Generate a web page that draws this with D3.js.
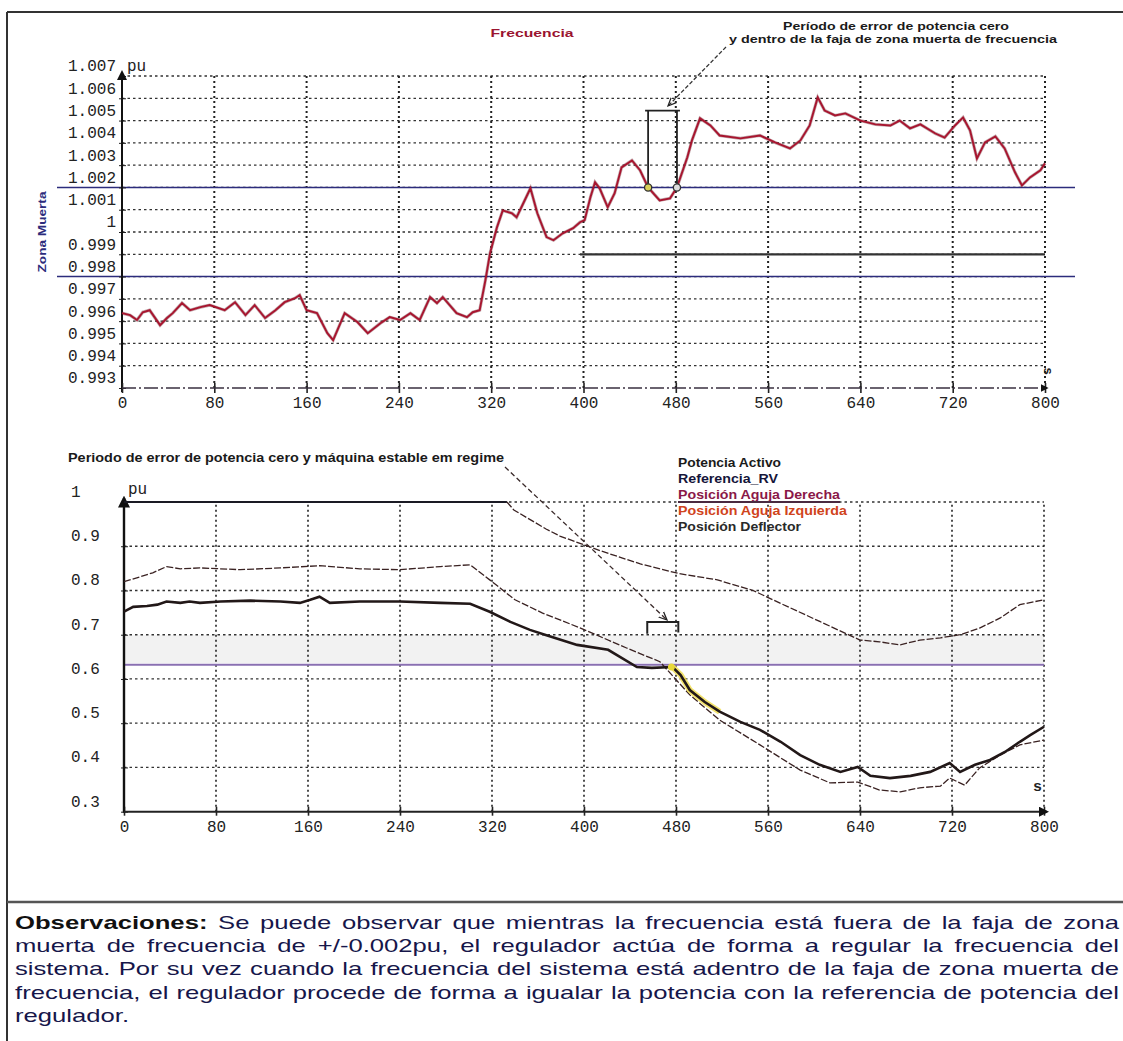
<!DOCTYPE html>
<html>
<head>
<meta charset="utf-8">
<script src="https://cdn.jsdelivr.net/npm/d3@7"></script>
<style>
  body { margin: 0; background: #fff; }
  svg { display: block; }
</style>
</head>
<body>
<div id="canvas"></div>
<script>
"use strict"

/* ---------- data ---------- */
const timeTicks = [0, 80, 160, 240, 320, 400, 480, 560, 640, 720, 800];
const freqTicks = [0.993, 0.994, 0.995, 0.996, 0.997, 0.998, 0.999, 1, 1.001, 1.002, 1.003, 1.004, 1.005, 1.006, 1.007];
const freqTickLabels = ["0.993", "0.994", "0.995", "0.996", "0.997", "0.998", "0.999", "1", "1.001", "1.002", "1.003", "1.004", "1.005", "1.006", "1.007"];
const powerTicks = [0.3, 0.4, 0.5, 0.6, 0.7, 0.8, 0.9, 1];
const powerTickLabels = ["0.3", "0.4", "0.5", "0.6", "0.7", "0.8", "0.9", "1"];
const deadZone = [0.998, 1.002];
const zeroErrorWindow = [456, 481];   // s, both charts
const powerReference = 0.632;
const grayBand = [0.636, 0.699];

// Frecuencia [s, pu]
const frecuencia = [
  [0,0.99636],[7,0.99627],[13,0.99605],[18,0.99640],[24,0.99649],[33,0.99582],[39,0.99614],[44,0.99636],
  [52,0.99681],[59,0.99649],[68,0.99663],[76,0.99672],[89,0.99649],[98,0.99685],[107,0.99627],[115,0.99672],
  [124,0.99614],[133,0.99649],[141,0.99685],[150,0.99703],[154,0.99717],[160,0.99649],[169,0.99636],[178,0.99546],
  [183,0.99515],[193,0.99636],[204,0.99596],[213,0.99546],[224,0.99591],[232,0.99618],[241,0.99605],[250,0.99636],
  [258,0.99605],[267,0.99708],[273,0.99681],[278,0.99708],[290,0.99636],[299,0.99618],[304,0.99640],[310,0.99649],
  [315,0.99784],[319,0.99905],[325,1.00021],[330,1.00097],[338,1.00084],[342,1.00066],[347,1.00120],[354,1.00196],
  [360,1.00084],[368,0.99977],[374,0.99963],[382,0.99994],[391,1.00017],[397,1.00044],[401,1.00053],[406,1.00156],
  [410,1.00223],[414,1.00196],[421,1.00111],[427,1.00174],[433,1.00290],[442,1.00321],[449,1.00277],[456,1.00200],
  [466,1.00142],[475,1.00151],[481,1.00200],[490,1.00335],[494,1.00411],[501,1.00510],[510,1.00478],[518,1.00433],
  [536,1.00420],[553,1.00433],[566,1.00402],[579,1.00375],[588,1.00411],[596,1.00478],[603,1.00604],[609,1.00545],
  [618,1.00523],[627,1.00532],[640,1.00500],[653,1.00483],[666,1.00478],[674,1.00500],[683,1.00465],[692,1.00483],
  [705,1.00442],[713,1.00424],[722,1.00478],[729,1.00514],[735,1.00456],[741,1.00330],[748,1.00402],[757,1.00429],
  [765,1.00375],[774,1.00268],[780,1.00209],[787,1.00245],[796,1.00277],[800,1.00308]
];
const referenciaFreq = [[397,0.999],[800,0.999]];

// lower chart [s, pu]
const potenciaActivo = [
  [0,0.752],[8,0.763],[20,0.765],[29,0.768],[37,0.775],[49,0.772],[57,0.775],[66,0.772],[84,0.775],[110,0.777],
  [136,0.775],[153,0.772],[162,0.779],[170,0.786],[179,0.772],[205,0.775],[240,0.775],[275,0.772],[301,0.770],
  [318,0.752],[336,0.729],[353,0.711],[366,0.700],[394,0.677],[421,0.666],[446,0.627],[459,0.625],[477,0.627],
  [484,0.609],[492,0.575],[505,0.548],[518,0.526],[536,0.503],[553,0.485],[571,0.458],[588,0.428],[605,0.406],
  [623,0.390],[638,0.401],[649,0.381],[666,0.376],[684,0.381],[701,0.390],[718,0.410],[727,0.390],[740,0.406],
  [753,0.417],[766,0.435],[779,0.458],[788,0.473],[800,0.492]
];
const posicionAguja = [
  [0,0.820],[14,0.831],[25,0.840],[37,0.854],[49,0.849],[66,0.851],[101,0.847],[136,0.851],[170,0.856],[205,0.849],
  [240,0.847],[275,0.854],[301,0.858],[318,0.824],[340,0.779],[364,0.749],[397,0.715],[437,0.670],[466,0.639],
  [492,0.564],[518,0.507],[553,0.451],[588,0.394],[614,0.365],[638,0.367],[657,0.349],[675,0.345],[692,0.354],
  [710,0.358],[718,0.376],[731,0.360],[744,0.399],[762,0.428],[779,0.451],[800,0.462]
];
const posicionDeflector = [
  [333,1.0],[339,0.982],[367,0.939],[379,0.923],[414,0.890],[449,0.860],[483,0.838],[516,0.824],[547,0.800],
  [570,0.772],[605,0.730],[640,0.688],[657,0.684],[675,0.677],[692,0.688],[710,0.693],[727,0.700],[744,0.715],
  [762,0.738],[779,0.768],[800,0.779]
];
const referenciaRV = [[0,1],[333,1]];
const highlightWindow = [474, 522];

const legendNames = ["Potencia Activo", "Referencia_RV", "Posición Aguja Derecha", "Posición Aguja Izquierda", "Posición Deflector"];
const legendColors = ["#1b1b1b", "#15153a", "#8a1848", "#d0441c", "#2a2a2a"];

const obsLines = [
  "Observaciones: Se puede observar que mientras la frecuencia está fuera de la faja de zona",
  "muerta de frecuencia de +/-0.002pu, el regulador actúa de forma a regular la frecuencia del",
  "sistema. Por su vez cuando la frecuencia del sistema está adentro de la faja de zona muerta de",
  "frecuencia, el regulador procede de forma a igualar la potencia con la referencia de potencia del",
  "regulador."
];

/* ---------- canvas ---------- */
let drawing = d3.select("#canvas")
  .append("svg")
  .attr("width", 1123)
  .attr("height", 1041)
  .style("background", "#fff");

let defs = drawing.append("defs");
defs.append("marker").attr("id", "arrow")
  .attr("viewBox", "0 0 10 10").attr("refX", 9).attr("refY", 5)
  .attr("markerWidth", 7).attr("markerHeight", 7).attr("orient", "auto-start-reverse")
  .append("path").attr("d", "M0,1 L9,5 L0,9").attr("fill", "none").attr("stroke", "#222").attr("stroke-width", 1.4);
defs.append("marker").attr("id", "axisArrow")
  .attr("viewBox", "0 0 10 10").attr("refX", 8).attr("refY", 5)
  .attr("markerWidth", 5).attr("markerHeight", 5).attr("orient", "auto")
  .append("path").attr("d", "M0,0 L10,5 L0,10 z").attr("fill", "#111");

const monoFont = "'Liberation Mono', 'DejaVu Sans Mono', monospace";
const sansFont = "'Liberation Sans', Arial, sans-serif";

// the scan is stretched sideways: force the width of a label
function stretch(sel, w) {
  return sel.attr("textLength", w).attr("lengthAdjust", "spacingAndGlyphs");
}

/* ---------- frame ---------- */
drawing.append("line").attr("x1", 7).attr("y1", 12).attr("x2", 1123).attr("y2", 12)
  .attr("stroke", "#333").attr("stroke-width", 2);
drawing.append("line").attr("x1", 7).attr("y1", 12).attr("x2", 7).attr("y2", 1041)
  .attr("stroke", "#333").attr("stroke-width", 2);
drawing.append("line").attr("x1", 7).attr("y1", 902).attr("x2", 1123).attr("y2", 902)
  .attr("stroke", "#555").attr("stroke-width", 2.5);

/* ====================== TOP: Frecuencia ====================== */
let xTop = d3.scaleLinear().domain([0, 800]).range([122, 1045]);
let yTop = d3.scaleLinear().domain([0.993, 1.007]).range([388, 76]);

let topChart = drawing.append("g");

// dotted grid
topChart.append("g").selectAll("line").data(freqTicks.slice(1)).join("line")
  .attr("x1", xTop(0)).attr("x2", xTop(800))
  .attr("y1", d => yTop(d)).attr("y2", d => yTop(d))
  .attr("stroke", "#333").attr("stroke-width", 1.3).attr("stroke-dasharray", "2.5,3");
topChart.append("g").selectAll("line").data(timeTicks.slice(1)).join("line")
  .attr("x1", d => xTop(d)).attr("x2", d => xTop(d))
  .attr("y1", yTop(0.993)).attr("y2", yTop(1.007))
  .attr("stroke", "#222").attr("stroke-width", 2).attr("stroke-dasharray", "2,3");

// dead zone lines
topChart.append("g").selectAll("line").data(deadZone).join("line")
  .attr("x1", 57).attr("x2", 1075)
  .attr("y1", d => yTop(d)).attr("y2", d => yTop(d))
  .attr("stroke", "#2c2c7c").attr("stroke-width", 1.6);

// reference at 0.999
topChart.append("path").datum(referenciaFreq)
  .attr("d", d3.line().x(d => xTop(d[0])).y(d => yTop(d[1])))
  .attr("stroke", "#333").attr("stroke-width", 2.2).attr("fill", "none");

// axes
let yAxisTop = topChart.append("g").attr("transform", `translate(${xTop(0)},0)`)
  .call(d3.axisLeft(yTop).tickValues(freqTicks).tickFormat((d, i) => freqTickLabels[i]).tickSize(4).tickPadding(2));
yAxisTop.select(".domain").remove();
yAxisTop.selectAll("text").attr("dy", "-0.32em")
  .style("font-family", monoFont).style("font-size", "16px").attr("fill", "#222");
yAxisTop.selectAll(".tick line").attr("x2", 4).attr("x1", -3).attr("stroke", "#222");

topChart.append("line").attr("x1", xTop(0)).attr("x2", xTop(0)).attr("y1", yTop(0.993) + 4).attr("y2", yTop(1.007) - 4)
  .attr("stroke", "#111").attr("stroke-width", 2).attr("marker-end", "url(#axisArrow)");

let xAxisTop = topChart.append("g").attr("transform", `translate(0,${yTop(0.993)})`)
  .call(d3.axisBottom(xTop).tickValues(timeTicks).tickSize(5));
xAxisTop.select(".domain").remove();
xAxisTop.selectAll(".tick line").attr("y1", -5).attr("y2", 5).attr("stroke", "#222").attr("stroke-width", 1.6);
xAxisTop.selectAll("text").attr("y", 20).attr("dy", null)
  .style("font-family", monoFont).style("font-size", "16px").attr("fill", "#222");
topChart.append("line").attr("x1", xTop(0)).attr("x2", xTop(800) + 2).attr("y1", yTop(0.993)).attr("y2", yTop(0.993))
  .attr("stroke", "#3a3040").attr("stroke-width", 1.6).attr("stroke-dasharray", "14,3,2,3")
  .attr("marker-end", "url(#axisArrow)");

topChart.append("text").attr("x", 127).attr("y", 71).text("pu")
  .style("font-family", monoFont).style("font-size", "16px").attr("fill", "#222");
topChart.append("text").attr("transform", `translate(1044,371) rotate(90)`).attr("text-anchor", "middle").text("s")
  .style("font-family", sansFont).style("font-weight", "bold").style("font-size", "13px").attr("fill", "#222");

// Zona Muerta label
stretch(topChart.append("text").attr("transform", `translate(46,${yTop(1)}) rotate(-90)`).attr("text-anchor", "middle")
  .text("Zona Muerta").style("font-family", sansFont).style("font-weight", "bold").style("font-size", "11px")
  .attr("fill", "#2c2c7c"), 81);

// frequency trace
topChart.append("path").datum(frecuencia)
  .attr("d", d3.line().x(d => xTop(d[0])).y(d => yTop(d[1])))
  .attr("stroke", "#5a0c18").attr("stroke-width", 3.2).attr("fill", "none").attr("opacity", 0.35);
topChart.append("path").datum(frecuencia)
  .attr("d", d3.line().x(d => xTop(d[0])).y(d => yTop(d[1])))
  .attr("stroke", "#a8152f").attr("stroke-width", 1.9).attr("fill", "none");

// zero error window bracket
let bTop = yTop(1.00545);
topChart.append("path")
  .attr("d", `M${xTop(zeroErrorWindow[0])},${yTop(deadZone[1])} V${bTop} M${xTop(zeroErrorWindow[1])},${yTop(deadZone[1])} V${bTop} M${xTop(zeroErrorWindow[0]) - 3},${bTop} H${xTop(zeroErrorWindow[1]) + 3}`)
  .attr("stroke", "#222").attr("stroke-width", 1.8).attr("fill", "none");
topChart.append("circle").attr("cx", xTop(zeroErrorWindow[0])).attr("cy", yTop(deadZone[1])).attr("r", 3.6)
  .attr("fill", "#d8cf58").attr("stroke", "#333").attr("stroke-width", 1.3);
topChart.append("circle").attr("cx", xTop(zeroErrorWindow[1])).attr("cy", yTop(deadZone[1])).attr("r", 3.6)
  .attr("fill", "#ddd").attr("stroke", "#333").attr("stroke-width", 1.3);

// titles
stretch(topChart.append("text").attr("x", 532).attr("y", 37).attr("text-anchor", "middle").text("Frecuencia")
  .style("font-family", sansFont).style("font-weight", "bold").style("font-size", "11px").attr("fill", "#9a1430"), 83);
stretch(topChart.append("text").attr("x", 896).attr("y", 30).attr("text-anchor", "middle").text("Período de error de potencia cero")
  .style("font-family", sansFont).style("font-weight", "bold").style("font-size", "11px").attr("fill", "#1a1a1a"), 226);
stretch(topChart.append("text").attr("x", 893).attr("y", 43).attr("text-anchor", "middle").text("y dentro de la faja de zona muerta de frecuencia")
  .style("font-family", sansFont).style("font-weight", "bold").style("font-size", "11px").attr("fill", "#1a1a1a"), 328);
topChart.append("line").attr("x1", 726).attr("y1", 47).attr("x2", 668).attr("y2", 106)
  .attr("stroke", "#333").attr("stroke-width", 1.3).attr("stroke-dasharray", "4,2").attr("marker-end", "url(#arrow)");

/* ====================== BOTTOM: potencia / posiciones ====================== */
let xBot = d3.scaleLinear().domain([0, 800]).range([124, 1044]);
let yBot = d3.scaleLinear().domain([0.3, 1]).range([811.7, 502]);
let botChart = drawing.append("g");

botChart.append("rect").attr("x", xBot(0)).attr("width", xBot(800) - xBot(0))
  .attr("y", yBot(grayBand[1])).attr("height", yBot(grayBand[0]) - yBot(grayBand[1]))
  .attr("fill", "#f2f2f2");

botChart.append("g").selectAll("line").data(powerTicks.slice(1)).join("line")
  .attr("x1", xBot(0)).attr("x2", xBot(800))
  .attr("y1", d => yBot(d)).attr("y2", d => yBot(d))
  .attr("stroke", "#333").attr("stroke-width", 1.3).attr("stroke-dasharray", "2.5,3");
botChart.append("g").selectAll("line").data(timeTicks.slice(1)).join("line")
  .attr("x1", d => xBot(d)).attr("x2", d => xBot(d))
  .attr("y1", yBot(0.3)).attr("y2", yBot(1))
  .attr("stroke", "#222").attr("stroke-width", 1.6).attr("stroke-dasharray", "2,3");

botChart.append("line").attr("x1", xBot(0)).attr("x2", xBot(800))
  .attr("y1", yBot(powerReference)).attr("y2", yBot(powerReference))
  .attr("stroke", "#8a70b2").attr("stroke-width", 2);

let yAxisBot = botChart.append("g").attr("transform", `translate(${xBot(0)},0)`)
  .call(d3.axisLeft(yBot).tickValues(powerTicks).tickFormat((d, i) => powerTickLabels[i]).tickSize(4));
yAxisBot.select(".domain").remove();
yAxisBot.selectAll(".tick line").attr("x1", -3).attr("x2", 4).attr("stroke", "#222");
yAxisBot.selectAll("text").attr("x", 71 - xBot(0)).attr("dy", "-0.35em").attr("text-anchor", "start")
  .style("font-family", monoFont).style("font-size", "16px").attr("fill", "#222");

let xAxisBot = botChart.append("g").attr("transform", `translate(0,${yBot(0.3)})`)
  .call(d3.axisBottom(xBot).tickValues(timeTicks).tickSize(5));
xAxisBot.select(".domain").remove();
xAxisBot.selectAll(".tick line").attr("y1", -5).attr("y2", 4).attr("stroke", "#222").attr("stroke-width", 1.6);
xAxisBot.selectAll("text").attr("y", 20).attr("dy", null)
  .style("font-family", monoFont).style("font-size", "16px").attr("fill", "#222");

botChart.append("line").attr("x1", xBot(0)).attr("x2", xBot(0)).attr("y1", yBot(0.3) + 1).attr("y2", yBot(1) - 4)
  .attr("stroke", "#111").attr("stroke-width", 2.4).attr("marker-end", "url(#axisArrow)");
botChart.append("line").attr("x1", xBot(0)).attr("x2", xBot(800) + 3).attr("y1", yBot(0.3)).attr("y2", yBot(0.3))
  .attr("stroke", "#222").attr("stroke-width", 2).attr("marker-end", "url(#axisArrow)");

botChart.append("text").attr("x", 128).attr("y", 494).text("pu")
  .style("font-family", monoFont).style("font-size", "16px").attr("fill", "#222");
botChart.append("text").attr("x", 1033).attr("y", 791).text("s")
  .style("font-family", monoFont).style("font-size", "15px").style("font-weight", "bold").attr("fill", "#222");

let lineBot = d3.line().x(d => xBot(d[0])).y(d => yBot(d[1]));

botChart.append("path").datum(referenciaRV).attr("d", lineBot)
  .attr("stroke", "#1a1a24").attr("stroke-width", 2).attr("fill", "none");
botChart.append("path").datum(posicionDeflector).attr("d", lineBot)
  .attr("stroke", "#3a2222").attr("stroke-width", 1.3).attr("stroke-dasharray", "7,2").attr("fill", "none");
botChart.append("path").datum(posicionAguja).attr("d", lineBot)
  .attr("stroke", "#3a2222").attr("stroke-width", 1.3).attr("stroke-dasharray", "7,2").attr("fill", "none");
botChart.append("path").datum(potenciaActivo.filter(d => d[0] >= highlightWindow[0] && d[0] <= highlightWindow[1]))
  .attr("d", lineBot).attr("stroke", "#f0dc4a").attr("stroke-width", 6).attr("fill", "none").attr("opacity", 0.8);
botChart.append("path").datum(potenciaActivo).attr("d", lineBot)
  .attr("stroke", "#221818").attr("stroke-width", 2.6).attr("fill", "none");
botChart.append("circle").attr("cx", xBot(highlightWindow[0] + 2)).attr("cy", yBot(0.627)).attr("r", 3.5).attr("fill", "#e8d83a");

// bracket + annotation
let bx0 = xBot(zeroErrorWindow[0] - 1), bx1 = xBot(zeroErrorWindow[1] + 1);
botChart.append("path")
  .attr("d", `M${bx0},${yBot(0.702)} V${yBot(0.729)} H${bx1} V${yBot(0.705)}`)
  .attr("stroke", "#222").attr("stroke-width", 2).attr("fill", "none");
stretch(botChart.append("text").attr("x", 68).attr("y", 462).text("Periodo de error de potencia cero y máquina estable em regime")
  .style("font-family", sansFont).style("font-weight", "bold").style("font-size", "12px").attr("fill", "#1a1a1a"), 436);
botChart.append("line").attr("x1", 505).attr("y1", 467).attr("x2", 667).attr("y2", 620)
  .attr("stroke", "#3a2a2a").attr("stroke-width", 1.3).attr("stroke-dasharray", "5,3").attr("marker-end", "url(#arrow)");

// legend
const legendWidths = [103, 100, 162, 169, 123];
botChart.append("g").selectAll("text").data(legendNames).join("text")
  .attr("x", 678).attr("y", (d, i) => 467 + i * 16).text(d => d)
  .attr("textLength", (d, i) => legendWidths[i]).attr("lengthAdjust", "spacingAndGlyphs")
  .style("font-family", sansFont).style("font-weight", "bold").style("font-size", "13px")
  .attr("fill", (d, i) => legendColors[i]);
botChart.append("line").attr("x1", 678).attr("x2", 840).attr("y1", yBot(1)).attr("y2", yBot(1))
  .attr("stroke", "#4a2a40").attr("stroke-width", 2);

/* ====================== Observaciones (justified) ====================== */
const obsX0 = 15, obsX1 = 1119, obsGap = 8;
let obsRows = obsLines.map((line, i) => {
  const words = line.split(" ");
  const nodes = words.map((w, j) => drawing.append("text").attr("y", 929 + i * 23.2).text(w)
    .style("font-family", sansFont)
    .style("font-size", "19px")
    .style("font-weight", (i === 0 && j === 0) ? "bold" : "normal")
    .attr("fill", (i === 0 && j === 0) ? "#111" : "#16164a"));
  const widths = nodes.map(n => n.node().getComputedTextLength());
  return { nodes, widths };
});
// one common horizontal stretch so the tightest full line keeps a normal word gap
const obsScale = d3.min(obsRows.slice(0, -1), r =>
  (obsX1 - obsX0 - (r.nodes.length - 1) * obsGap) / d3.sum(r.widths));
obsRows.forEach((r, i) => {
  const w = r.widths.map(v => v * obsScale);
  const last = i === obsRows.length - 1;
  const gap = last ? obsGap : (obsX1 - obsX0 - d3.sum(w)) / (w.length - 1);
  let x = obsX0;
  r.nodes.forEach((n, j) => {
    stretch(n.attr("x", x), w[j]);
    x += w[j] + gap;
  });
});
</script>
</body>
</html>
